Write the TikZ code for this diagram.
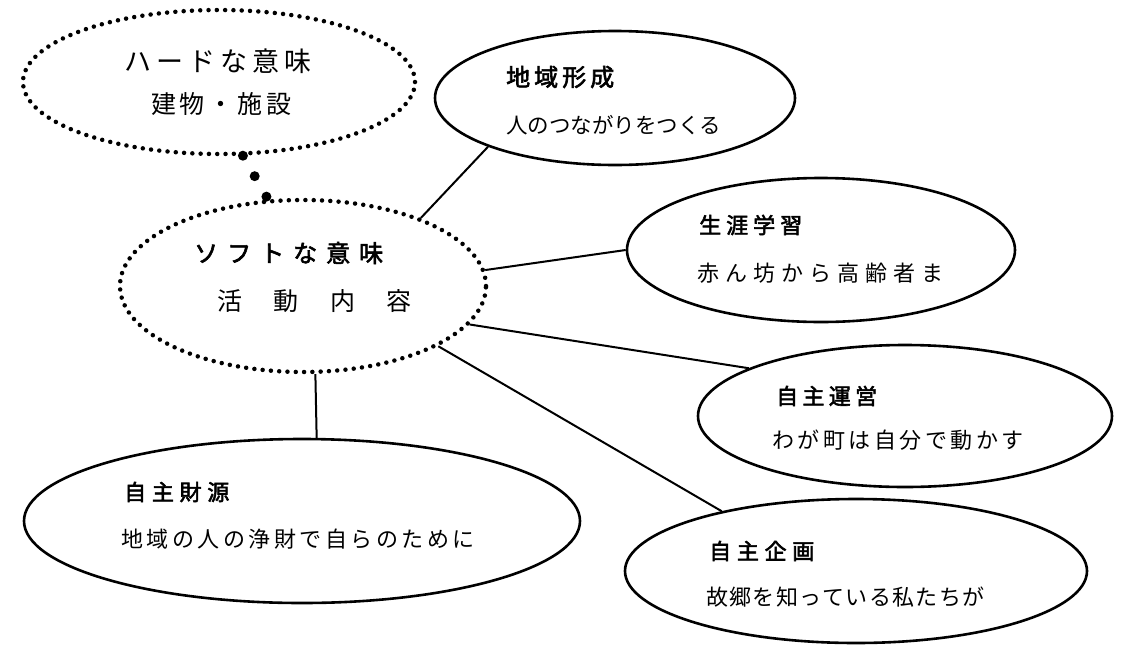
\documentclass[tikz,border=0pt]{standalone}
\usepackage{fontspec}
\usetikzlibrary{shapes.geometric}
\newfontfamily\jr{Noto Sans CJK JP}
\newfontfamily\jb[FakeBold=2.5]{Noto Sans CJK JP}
\makeatletter
\newcommand\lsp[2]{\def\ls@g{#1}\ls@a#2\@nil}
\def\ls@a#1#2{#1\ifx#2\@nil\else\kern\ls@g\relax\expandafter\ls@a\expandafter#2\fi}
\makeatother
\tikzset{
  solidell/.style={ellipse, draw, line width=2.6pt, inner sep=0pt},
  dotell/.style={ellipse, draw, line width=4.5pt, dash pattern=on 0pt off 8.3pt, line cap=round, inner sep=0pt},
  link/.style={line width=2pt},
  beads/.style={line width=10pt, line cap=round, dash pattern=on 0pt off 23.6pt, shorten >=2pt},
  txt/.style={anchor=west, inner sep=0pt, font=\jr},
  ttl/.style={anchor=west, inner sep=0pt, font=\jb},
}
\begin{document}
\begin{tikzpicture}[x=1pt,y=-1pt]
\useasboundingbox (0,0) rectangle (1125,654);
% ellipses
\node[dotell, minimum width=392pt, minimum height=144pt] (hard) at (219,82) {};
\node[dotell, minimum width=366pt, minimum height=172pt] (soft) at (303,286) {};
\node[solidell, minimum width=360pt, minimum height=134pt] (chiiki) at (615,98) {};
\node[solidell, minimum width=388pt, minimum height=144pt] (shougai) at (821,250) {};
\node[solidell, minimum width=414pt, minimum height=142pt] (unei) at (905,416) {};
\node[solidell, minimum width=462pt, minimum height=144pt] (kikaku) at (856,571) {};
\node[solidell, minimum width=556pt, minimum height=164pt] (zaigen) at (302,521) {};
% connectors
\draw[beads] (hard.288.7) -- (soft.112.7);
\draw[link] (soft.30.2) -- (chiiki.201.4);
\draw[link] (soft.5) -- (shougai.180);
\draw[link] (soft.347.5) -- (unei.163.8);
\draw[link] (soft.336.6) -- (kikaku.156.6);
\draw[link] (soft.278.6) -- (zaigen.80.2);
% texts
\node[txt] (t1) at (124,61) {\fontsize{27}{30}\selectfont\lsp{5pt}{ハードな意味}};
\node[txt] (t2) at (151,104) {\fontsize{25}{28}\selectfont\lsp{3.7pt}{建物・施設}};
\node[ttl] (t3) at (194,253) {\fontsize{24}{28}\selectfont\lsp{9pt}{ソフトな意味}};
\node[txt] (t4) at (217,301) {\fontsize{25}{28}\selectfont\lsp{31.5pt}{活動内容}};
\node[ttl] (t5) at (506,77) {\fontsize{24}{28}\selectfont\lsp{4pt}{地域形成}};
\node[txt] (t6) at (506,125) {\fontsize{21.5}{25}\selectfont\lsp{0pt}{人のつながりをつくる}};
\node[ttl] (t7) at (699,225) {\fontsize{22}{26}\selectfont\lsp{5pt}{生涯学習}};
\node[txt] (t8) at (697,273) {\fontsize{22}{26}\selectfont\lsp{6pt}{赤ん坊から高齢者ま}};
\node[ttl] (t9) at (776,396) {\fontsize{22}{26}\selectfont\lsp{4.3pt}{自主運営}};
\node[txt] (t10) at (772,440) {\fontsize{22}{26}\selectfont\lsp{3.5pt}{わが町は自分で動かす}};
\node[ttl] (t11) at (709,551) {\fontsize{22}{26}\selectfont\lsp{5.7pt}{自主企画}};
\node[txt] (t12) at (706,597) {\fontsize{22}{26}\selectfont\lsp{1.3pt}{故郷を知っている私たちが}};
\node[ttl] (t13) at (124,492) {\fontsize{22}{26}\selectfont\lsp{5.7pt}{自主財源}};
\node[txt] (t14) at (121,539) {\fontsize{22}{26}\selectfont\lsp{3.5pt}{地域の人の浄財で自らのために}};
\end{tikzpicture}
\end{document}
